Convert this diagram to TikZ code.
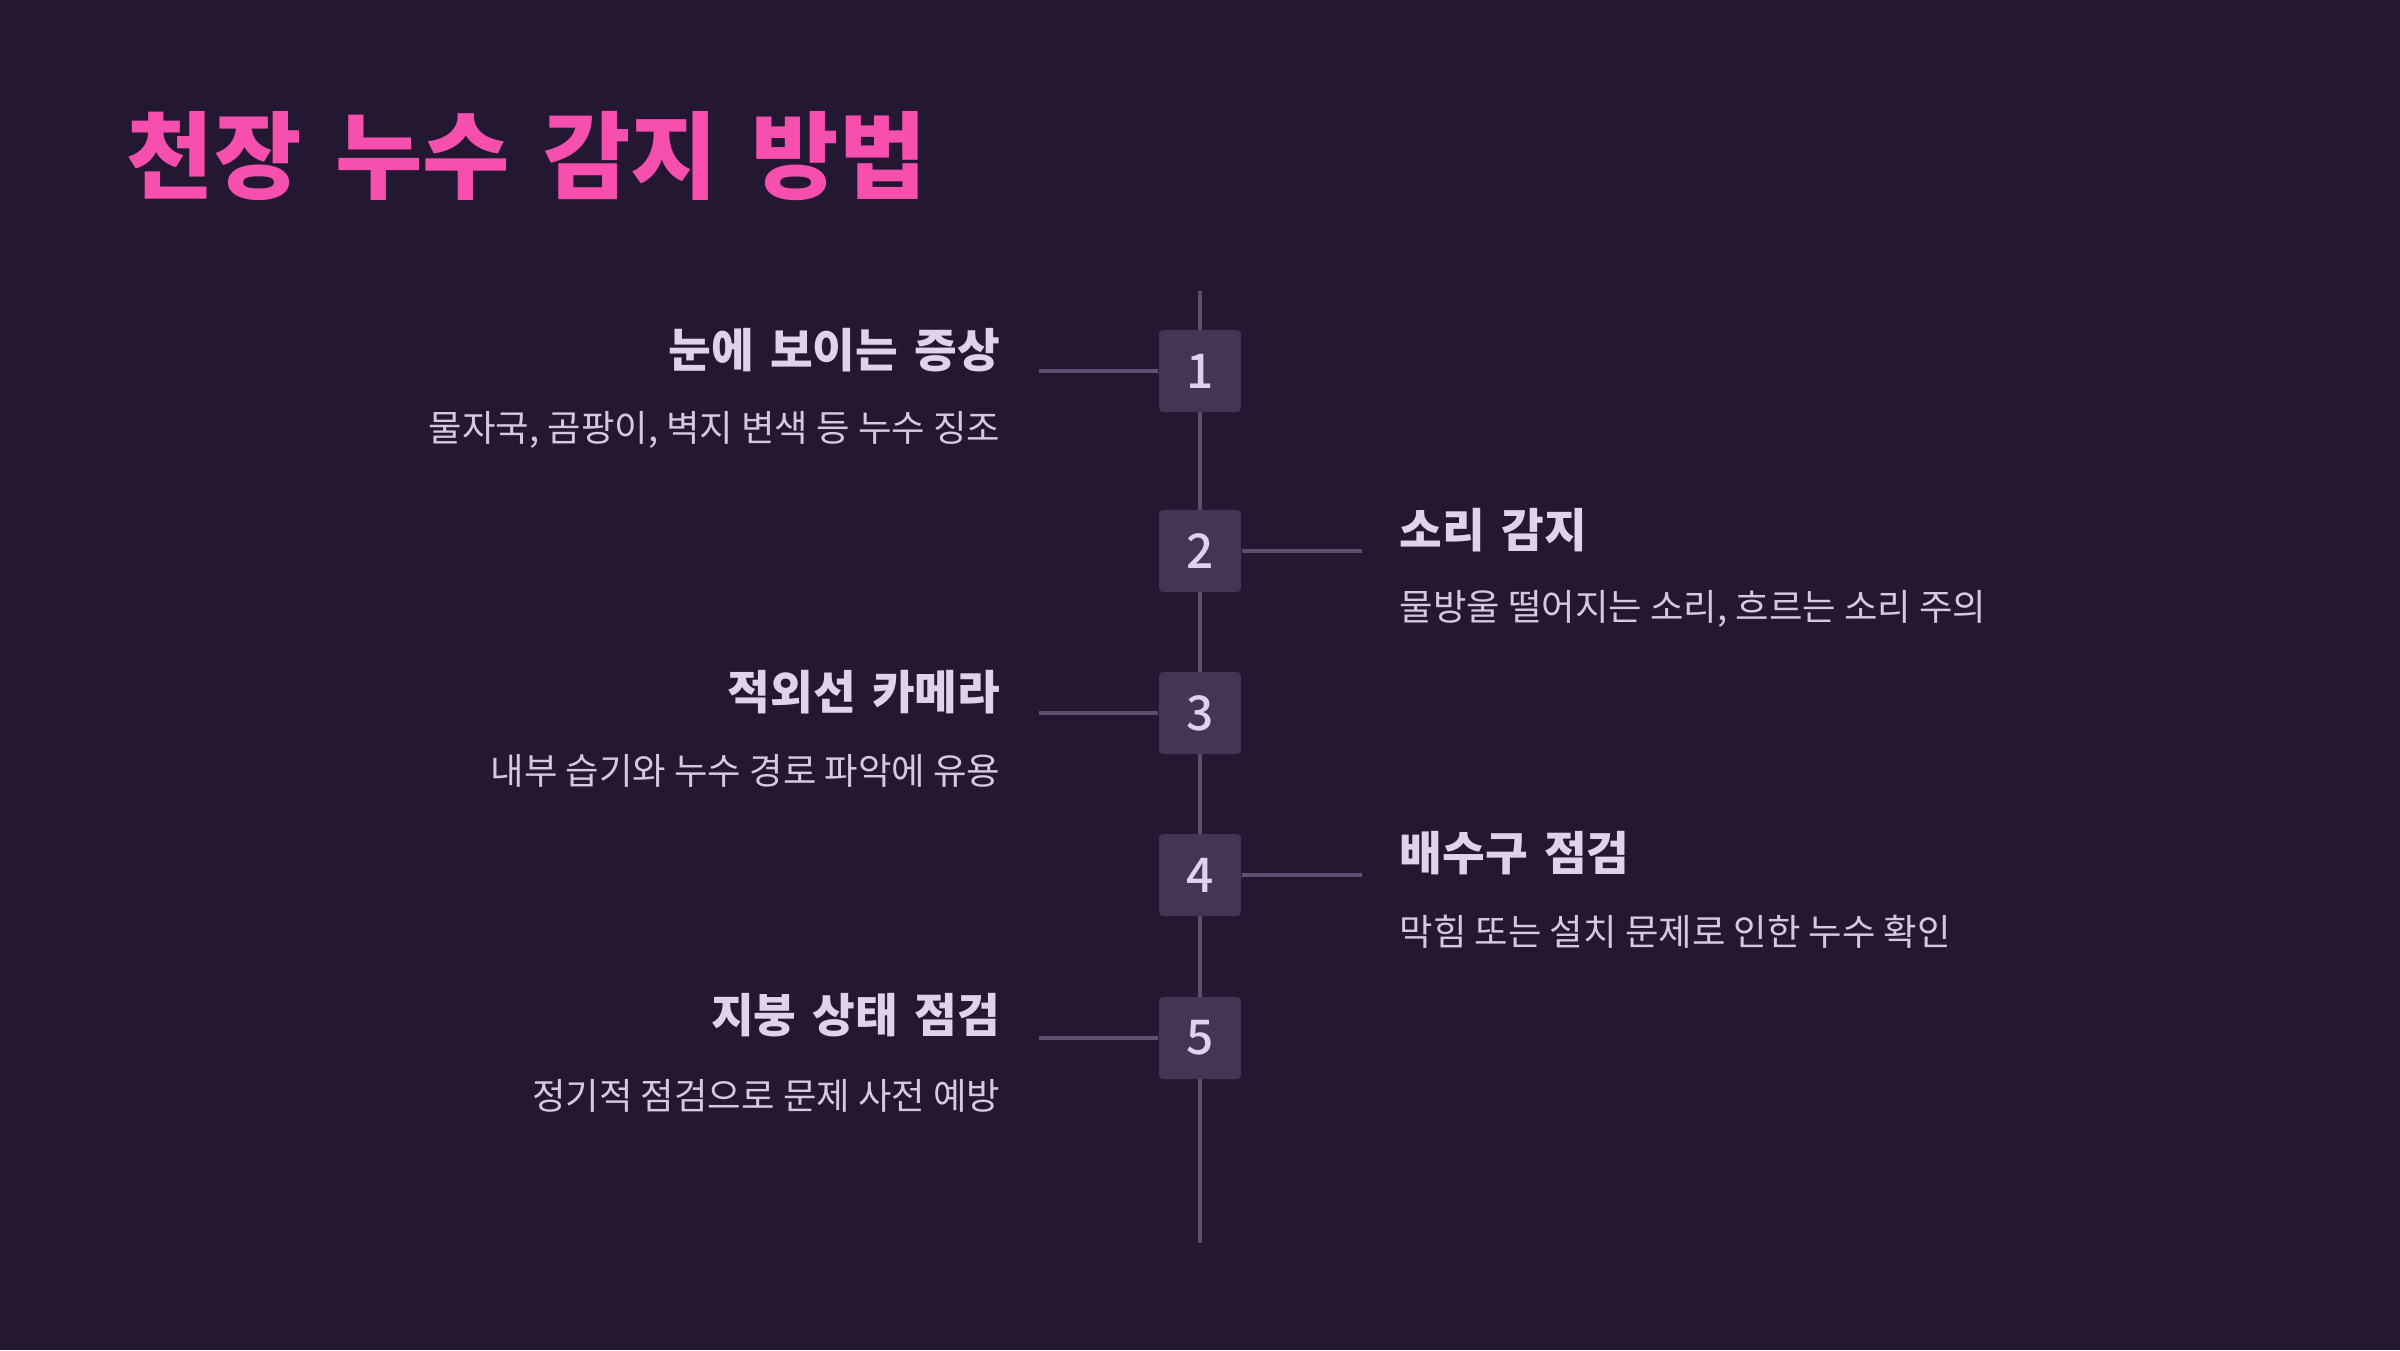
\documentclass[tikz,border=0pt]{standalone}
\usepackage{fontspec}
\setmainfont{Noto Sans CJK KR}
\newfontfamily\headfont[WordSpace=1.55]{Noto Sans CJK KR}
\newfontfamily\numfont[UprightFont={* Medium}]{Noto Sans CJK KR}
\usetikzlibrary{positioning}
\definecolor{bgdark}{RGB}{35,23,50}
\definecolor{titlepink}{RGB}{247,79,173}
\definecolor{textlav}{RGB}{222,210,236}
\definecolor{desclav}{RGB}{212,200,226}
\definecolor{boxfill}{RGB}{66,54,84}
\definecolor{linegray}{RGB}{92,80,112}

\begin{document}
\begin{tikzpicture}[
    x=0.01cm, y=-0.01cm,
    numbox/.style={rectangle, fill=boxfill, minimum width=0.82cm, minimum height=0.82cm, rounded corners=1.2pt, text=textlav, font=\numfont\fontsize{13.6}{15}\selectfont, inner sep=0pt},
    itemtitle/.style={text=textlav, font=\headfont\fontsize{13.2}{15}\selectfont\bfseries, inner sep=0pt},
    itemdesc/.style={text=desclav, font=\fontsize{10.35}{13}\selectfont, inner sep=0pt},
    spine/.style={draw=linegray, line width=1pt},
    connector/.style={draw=linegray, line width=1pt}
]

% Background
\fill[bgdark] (0,0) rectangle (2400,1350);

% Title
\node[anchor=west, text=titlepink, font=\headfont\fontsize{27}{30}\selectfont\bfseries, inner sep=0pt] (title) at (126,156) {천장 누수 감지 방법};

% Timeline
\coordinate (linetop) at (1200,291);
\coordinate (linebot) at (1200,1243);
\draw[spine] (linetop) -- (linebot);

% Steps
\node[numbox] (n1) at (1200,371) {1};
\node[numbox] (n2) at (1200,551) {2};
\node[numbox] (n3) at (1200,713) {3};
\node[numbox] (n4) at (1200,875) {4};
\node[numbox] (n5) at (1200,1038) {5};

% Connectors
\coordinate (c1) at (1039,371);
\coordinate (c2) at (1362,551);
\coordinate (c3) at (1039,713);
\coordinate (c4) at (1362,875);
\coordinate (c5) at (1039,1038);
\draw[connector] (c1) -- (n1.west);
\draw[connector] (n2.east) -- (c2);
\draw[connector] (c3) -- (n3.west);
\draw[connector] (n4.east) -- (c4);
\draw[connector] (c5) -- (n5.west);

% Left side
\node[itemtitle, anchor=east] (t1) at (1001,350) {눈에 보이는 증상};
\node[itemdesc, anchor=east] (d1) at (1001,430) {물자국, 곰팡이, 벽지 변색 등 누수 징조};
\node[itemtitle, anchor=east] (t3) at (1001,692) {적외선 카메라};
\node[itemdesc, anchor=east] (d3) at (1001,771) {내부 습기와 누수 경로 파악에 유용};
\node[itemtitle, anchor=east] (t5) at (1001,1015) {지붕 상태 점검};
\node[itemdesc, anchor=east] (d5) at (1001,1096) {정기적 점검으로 문제 사전 예방};

% Right side
\node[itemtitle, anchor=west] (t2) at (1399,530) {소리 감지};
\node[itemdesc, anchor=west] (d2) at (1399,609) {물방울 떨어지는 소리, 흐르는 소리 주의};
\node[itemtitle, anchor=west] (t4) at (1399,853) {배수구 점검};
\node[itemdesc, anchor=west] (d4) at (1399,932) {막힘 또는 설치 문제로 인한 누수 확인};

\end{tikzpicture}
\end{document}
